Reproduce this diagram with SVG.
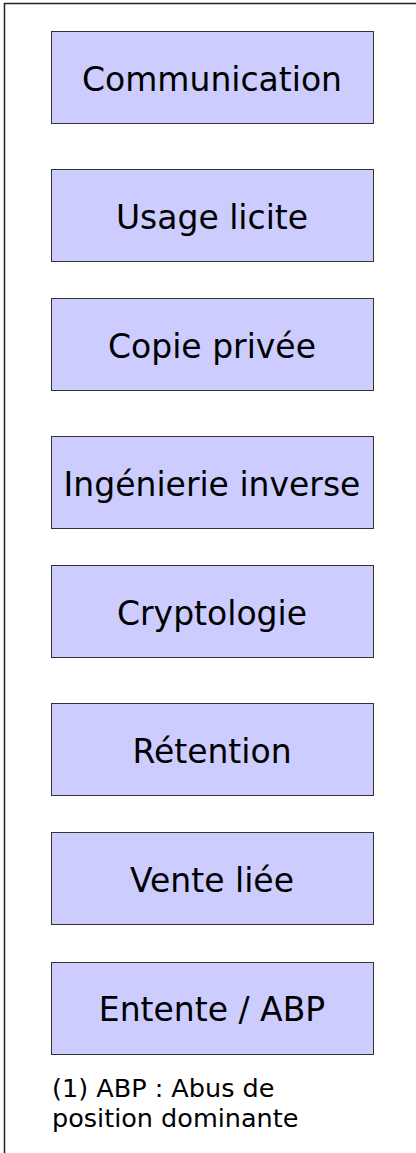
<svg xmlns="http://www.w3.org/2000/svg" width="416" height="1153" viewBox="0 0 416 1153">
<style>
.box{fill:#ccccff;stroke:#333333;stroke-width:1}
.lbl{font-family:"DejaVu Sans",Verdana,sans-serif;font-size:33px;fill:#000;text-anchor:middle}
.note{font-family:"DejaVu Sans",Verdana,sans-serif;font-size:25.5px;fill:#000}
</style>
<rect width="416" height="1153" fill="#ffffff"/>
<path d="M4.5,1153 V3.5 H416" fill="none" stroke="#222" stroke-width="1.5"/>
<g id="n1"><rect class="box" x="51.5" y="31.5" width="322" height="92"/><text class="lbl" x="212" y="91">Communication</text></g>
<g id="n2"><rect class="box" x="51.5" y="169.5" width="322" height="92"/><text class="lbl" x="212" y="229">Usage licite</text></g>
<g id="n3"><rect class="box" x="51.5" y="298.5" width="322" height="92"/><text class="lbl" x="212" y="358">Copie privée</text></g>
<g id="n4"><rect class="box" x="51.5" y="436.5" width="322" height="92"/><text class="lbl" x="212" y="496">Ingénierie inverse</text></g>
<g id="n5"><rect class="box" x="51.5" y="565.5" width="322" height="92"/><text class="lbl" x="212" y="625">Cryptologie</text></g>
<g id="n6"><rect class="box" x="51.5" y="703.5" width="322" height="92"/><text class="lbl" x="212" y="763">Rétention</text></g>
<g id="n7"><rect class="box" x="51.5" y="832.5" width="322" height="92"/><text class="lbl" x="212" y="892">Vente liée</text></g>
<g id="n8"><rect class="box" x="51.5" y="962.5" width="322" height="92"/><text class="lbl" x="212" y="1021">Entente / ABP</text></g>
<g id="connectors"></g>
<g id="note"><text class="note" x="52" y="1097">(1) ABP : Abus de</text><text class="note" x="52" y="1127">position dominante</text></g>
</svg>
